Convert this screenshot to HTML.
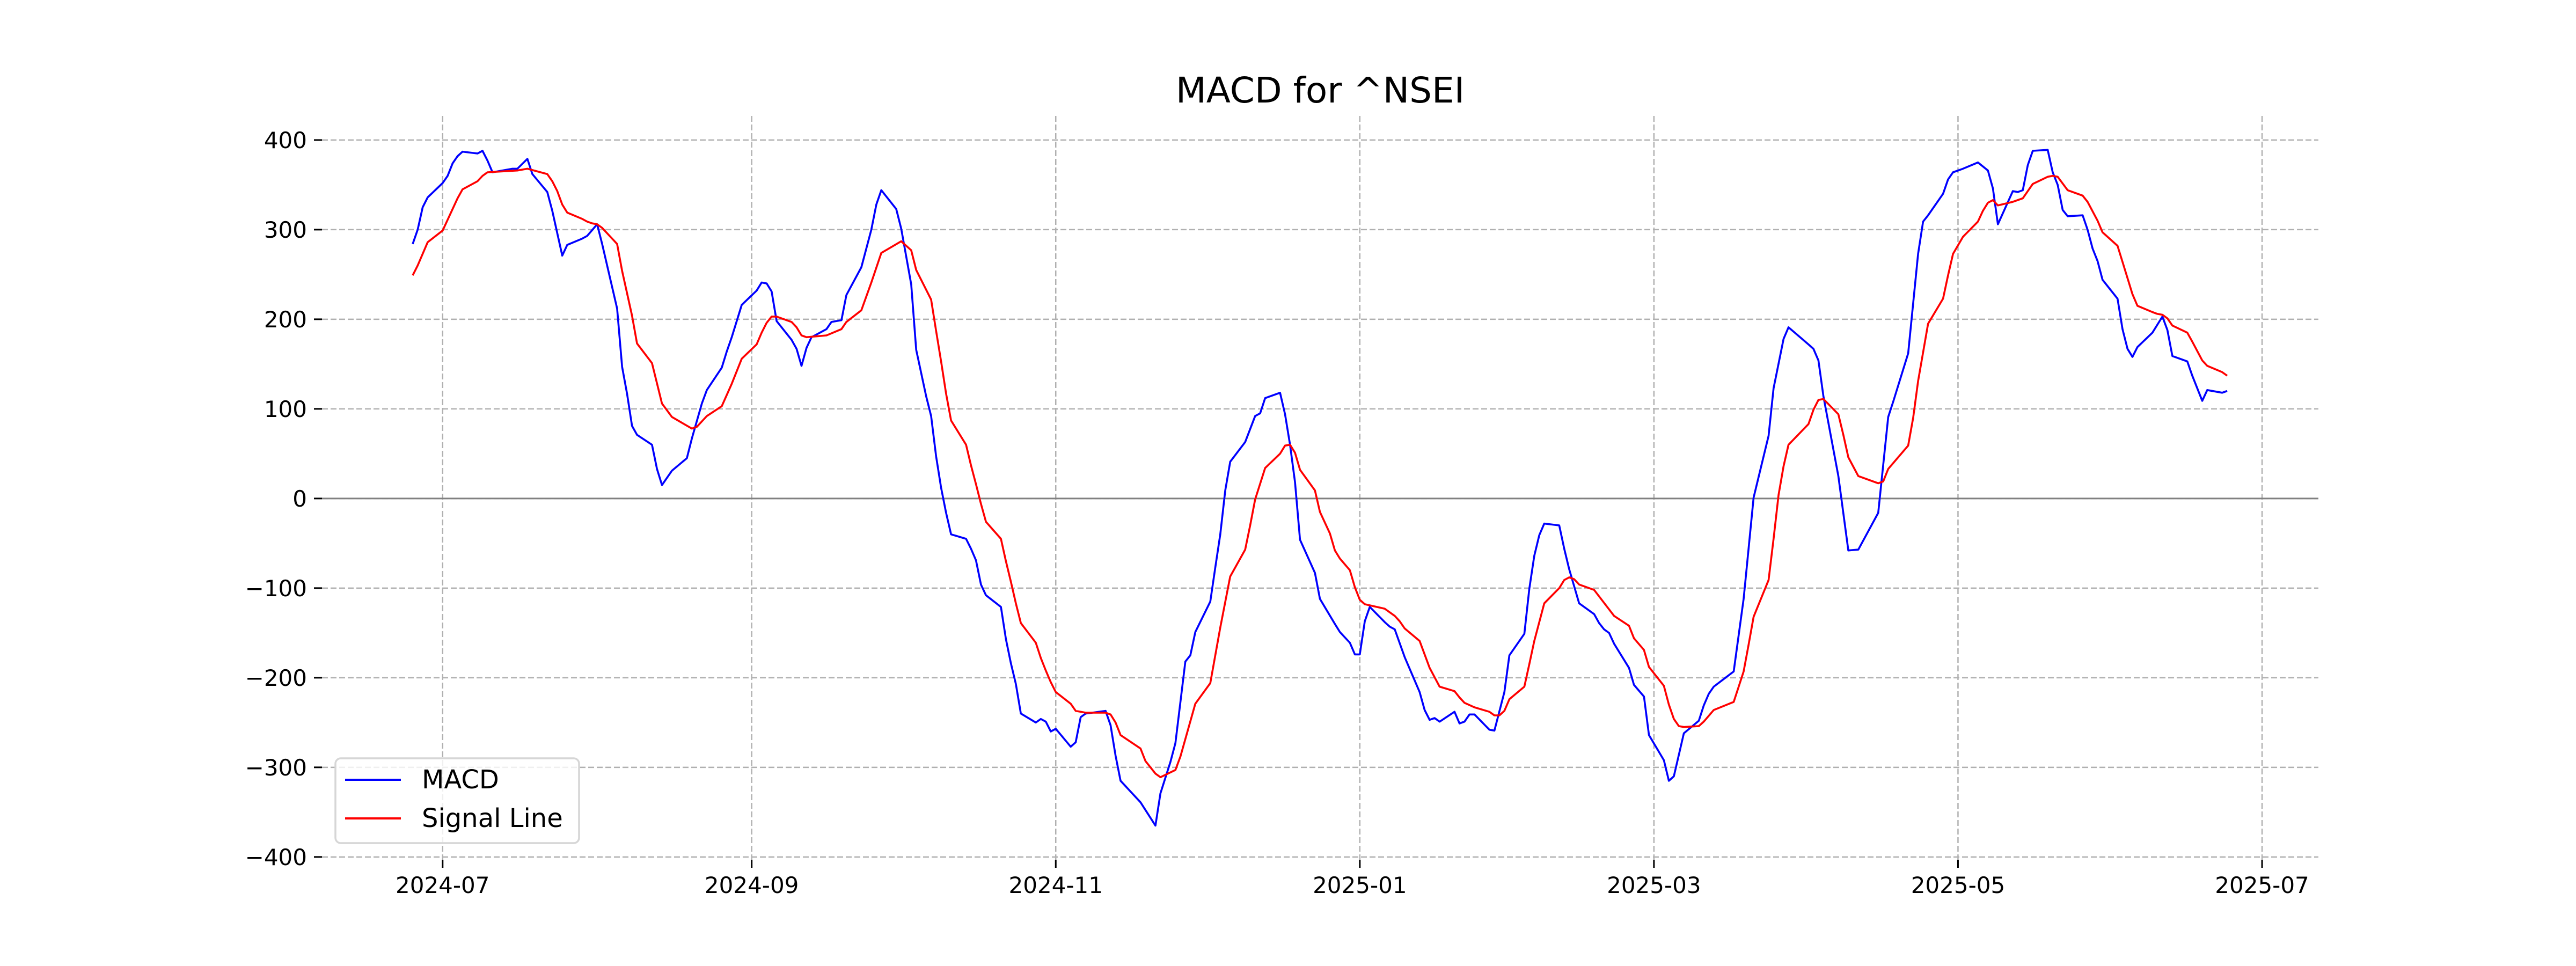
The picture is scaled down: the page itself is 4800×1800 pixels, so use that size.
<!DOCTYPE html>
<html>
<head>
<meta charset="utf-8">
<style>
  html, body { margin: 0; padding: 0; background: #ffffff; }
  svg { display: block; }
  text { font-family: "DejaVu Sans", "Liberation Sans", sans-serif; fill: #000; }
</style>
</head>
<body>
<svg id="chart" width="4800" height="1800" viewBox="0 0 4800 1800" xmlns="http://www.w3.org/2000/svg">
  <rect x="0" y="0" width="4800" height="1800" fill="#ffffff"/>
  <text x="2460" y="191" font-size="66" text-anchor="middle">MACD for ^NSEI</text>
  <g id="grid"></g>
  <g id="yaxis"></g>
  <g id="xaxis"></g>
  <g id="series"></g>
  <g id="legend">
    <rect x="625" y="1413" width="454" height="158" rx="10" ry="10" fill="#ffffff" fill-opacity="0.8" stroke="#d6d6d6" stroke-width="3.5"/>
    <line x1="643" y1="1453" x2="747" y2="1453" stroke="#0000ff" stroke-width="4"/>
    <text x="786" y="1469" font-size="48">MACD</text>
    <line x1="643" y1="1525" x2="747" y2="1525" stroke="#ff0000" stroke-width="4"/>
    <text x="786" y="1541" font-size="48">Signal Line</text>
  </g>
</svg>
<script>
// Day offsets are calendar days since 2024-07-01
const macdDays = [-6,-5,-4,-3,0,1,2,3,4,7,8,9,10,14,15,17,18,21,22,24,25,28,29,31,32,35,36,37,38,39,42,43,44,46,49,50,52,53,56,57,58,60,63,64,65,66,67,70,71,72,73,74,77,78,80,81,
  84,86,87,88,91,92,94,95,97,98,99,100,101,102,105,106,107,108,109,112,113,114,115,116,119,120,121,122,123,126,127,128,129,133,134,135,136,140,143,144,146,147,149,150,151,154,155,156,157,158,161,163,164,165,168,169,170,171,172,175,176,179,
  180,182,183,184,185,186,189,190,191,193,196,197,198,199,200,203,204,205,206,207,210,211,213,214,217,218,219,220,221,224,225,226,228,231,232,233,234,235,238,239,241,242,245,246,247,249,252,253,254,255,259,261,263,266,267,269,
  270,274,275,276,277,280,282,284,288,290,291,294,296,297,298,301,302,303,305,308,310,311,312,315,316,317,318,319,322,323,324,325,326,329,330,331,332,333,336,337,338,339,340,343,345,346,347,350,351,353,354,357,358];
const macdValues = [284,300,325,336,352,360,374,382,387,385,388,377,364,368,368,379,362,342,321,271,283,290,293,306,284,212,147,117,81,71,60,33,15,31,45,67,106,121,146,164,180,216,232,241,240,231,198,177,167,148,168,180,189,197,199,227,
  258,300,328,344,323,301,239,166,114,92,47,12,-16,-40,-45,-56,-69,-96,-108,-121,-157,-184,-207,-240,-250,-246,-249,-260,-257,-277,-272,-244,-240,-237,-253,-287,-315,-339,-365,-329,-294,-273,-182,-175,-149,-115,-77,-40,9,41,63,92,95,112,118,94,60,18,-46,-83,-112,-140,
  -149,-161,-174,-174,-137,-121,-138,-143,-146,-177,-216,-236,-247,-245,-249,-238,-251,-249,-241,-241,-258,-259,-216,-175,-151,-101,-64,-41,-28,-30,-56,-79,-117,-129,-139,-146,-150,-162,-189,-208,-221,-264,-292,-315,-310,-262,-248,-231,-218,-210,-193,-112,1,70,123,178,
  191,172,167,154,114,25,-58,-57,-16,91,108,162,273,309,316,340,356,364,368,375,366,346,306,343,342,344,372,388,389,364,350,322,315,316,300,279,265,244,223,189,167,158,169,185,203,188,159,153,137,109,121,118,120];

const signalDays = [-6,-5,-3,0,1,3,4,7,8,9,15,17,21,22,23,24,25,28,29,30,31,32,35,36,38,39,42,44,46,50,51,53,56,58,60,63,64,65,66,67,70,71,72,73,77,80,81,
  84,86,88,92,94,95,98,99,100,101,102,105,106,107,108,109,112,113,114,115,116,119,120,121,122,123,126,127,129,133,134,135,136,140,141,143,144,147,148,151,154,156,158,161,162,163,165,168,169,170,171,172,175,176,178,179,
  180,182,183,184,185,189,191,192,193,196,198,200,203,204,205,207,210,211,212,213,214,217,218,219,221,224,225,226,227,228,231,235,238,239,241,242,245,246,247,248,249,252,253,255,259,260,261,262,263,266,267,268,269,
  270,274,275,276,277,280,281,282,284,288,289,290,294,295,296,298,301,302,303,305,308,309,310,311,312,315,317,319,322,323,324,326,329,330,332,333,336,337,339,340,343,344,345,346,347,350,351,353,354,357,358];
const signalValues = [249,260,286,299,311,335,345,354,360,364,366,368,362,354,343,328,319,312,309,307,306,302,284,254,204,173,151,106,91,78,80,92,103,128,156,172,185,196,203,203,197,191,182,180,182,189,197,
  210,241,274,287,277,255,222,187,153,117,87,60,37,16,-6,-26,-45,-70,-93,-117,-139,-161,-178,-192,-205,-216,-229,-237,-239,-239,-241,-250,-264,-279,-293,-307,-311,-303,-288,-229,-206,-144,-87,-57,-30,-1,34,50,59,60,51,32,9,-15,-39,-58,
  -67,-80,-99,-113,-118,-123,-131,-137,-145,-159,-189,-210,-215,-222,-228,-233,-238,-242,-242,-237,-224,-210,-185,-159,-117,-100,-91,-88,-90,-96,-102,-131,-142,-156,-169,-188,-209,-230,-246,-254,-255,-254,-249,-236,-227,-210,-193,-163,-132,-91,-45,4,36,
  60,83,99,110,111,94,71,46,25,17,19,33,59,90,131,195,223,249,273,292,309,321,330,333,327,331,335,351,359,360,359,344,338,331,310,297,282,264,228,215,208,206,205,201,193,185,175,154,148,141,137];

const yTicks = [-400,-300,-200,-100,0,100,200,300,400];
const yTickLabels = ["\u2212400","\u2212300","\u2212200","\u2212100","0","100","200","300","400"];
const xTickDays = [0,62,123,184,243,304,365];
const xTickLabels = ["2024-07","2024-09","2024-11","2025-01","2025-03","2025-05","2025-07"];

const NS = "http://www.w3.org/2000/svg";
const plotLeft = 600, plotRight = 4320, plotTop = 216, plotBottom = 1602;
const xMin = -24.2, xMax = 376.3, yMin = -403.1, yMax = 426.9;
function xScale(d) { return plotLeft + (d - xMin) / (xMax - xMin) * (plotRight - plotLeft); }
function yScale(v) { return plotBottom - (v - yMin) / (yMax - yMin) * (plotBottom - plotTop); }
function mk(tag, attrs, parent) {
  const el = document.createElementNS(NS, tag);
  for (const k in attrs) el.setAttribute(k, attrs[k]);
  parent.appendChild(el);
  return el;
}

const grid = document.getElementById('grid');
const yaxis = document.getElementById('yaxis');
const xaxis = document.getElementById('xaxis');
const series = document.getElementById('series');

yTicks.forEach((v, i) => {
  const y = yScale(v);
  const gl = mk('line', {x1: plotLeft, x2: plotRight, y1: y, y2: y, stroke: '#b0b0b0', 'stroke-width': 2.5, 'stroke-dasharray': '11,5'}, grid);
  
  
  const tk = mk('line', {x1: plotLeft - 15, x2: plotLeft, y1: y, y2: y, stroke: '#000', 'stroke-width': 3}, yaxis);
  
  
  const t = mk('text', {x: plotLeft - 28, y: y + 15, 'font-size': 42, 'text-anchor': 'end'}, yaxis);
  t.textContent = yTickLabels[i];
  
  
});

xTickDays.forEach((d, i) => {
  const x = xScale(d);
  const gl = mk('line', {x1: x, x2: x, y1: plotTop, y2: plotBottom, stroke: '#b0b0b0', 'stroke-width': 2.5, 'stroke-dasharray': '11,5'}, grid);
  
  
  const tk = mk('line', {x1: x, x2: x, y1: plotBottom, y2: plotBottom + 15, stroke: '#000', 'stroke-width': 3}, xaxis);
  
  
  const t = mk('text', {x: x, y: plotBottom + 62, 'font-size': 42, 'text-anchor': 'middle'}, xaxis);
  t.textContent = xTickLabels[i];
  
  
});

const zl = mk('line', {x1: plotLeft, x2: plotRight, y1: yScale(0), y2: yScale(0), stroke: '#808080', 'stroke-width': 3}, grid);



function drawLine(days, vals, color, name) {
  const pts = days.map((d, i) => xScale(d).toFixed(1) + ',' + yScale(vals[i]).toFixed(1)).join(' ');
  const pl = mk('polyline', {points: pts, fill: 'none', stroke: color, 'stroke-width': 3.6, 'stroke-linejoin': 'round', 'stroke-linecap': 'butt'}, series);
  
  
}
drawLine(macdDays, macdValues, '#0000ff', 'macd-line');
drawLine(signalDays, signalValues, '#ff0000', 'signal-line');
</script>
</body>
</html>
